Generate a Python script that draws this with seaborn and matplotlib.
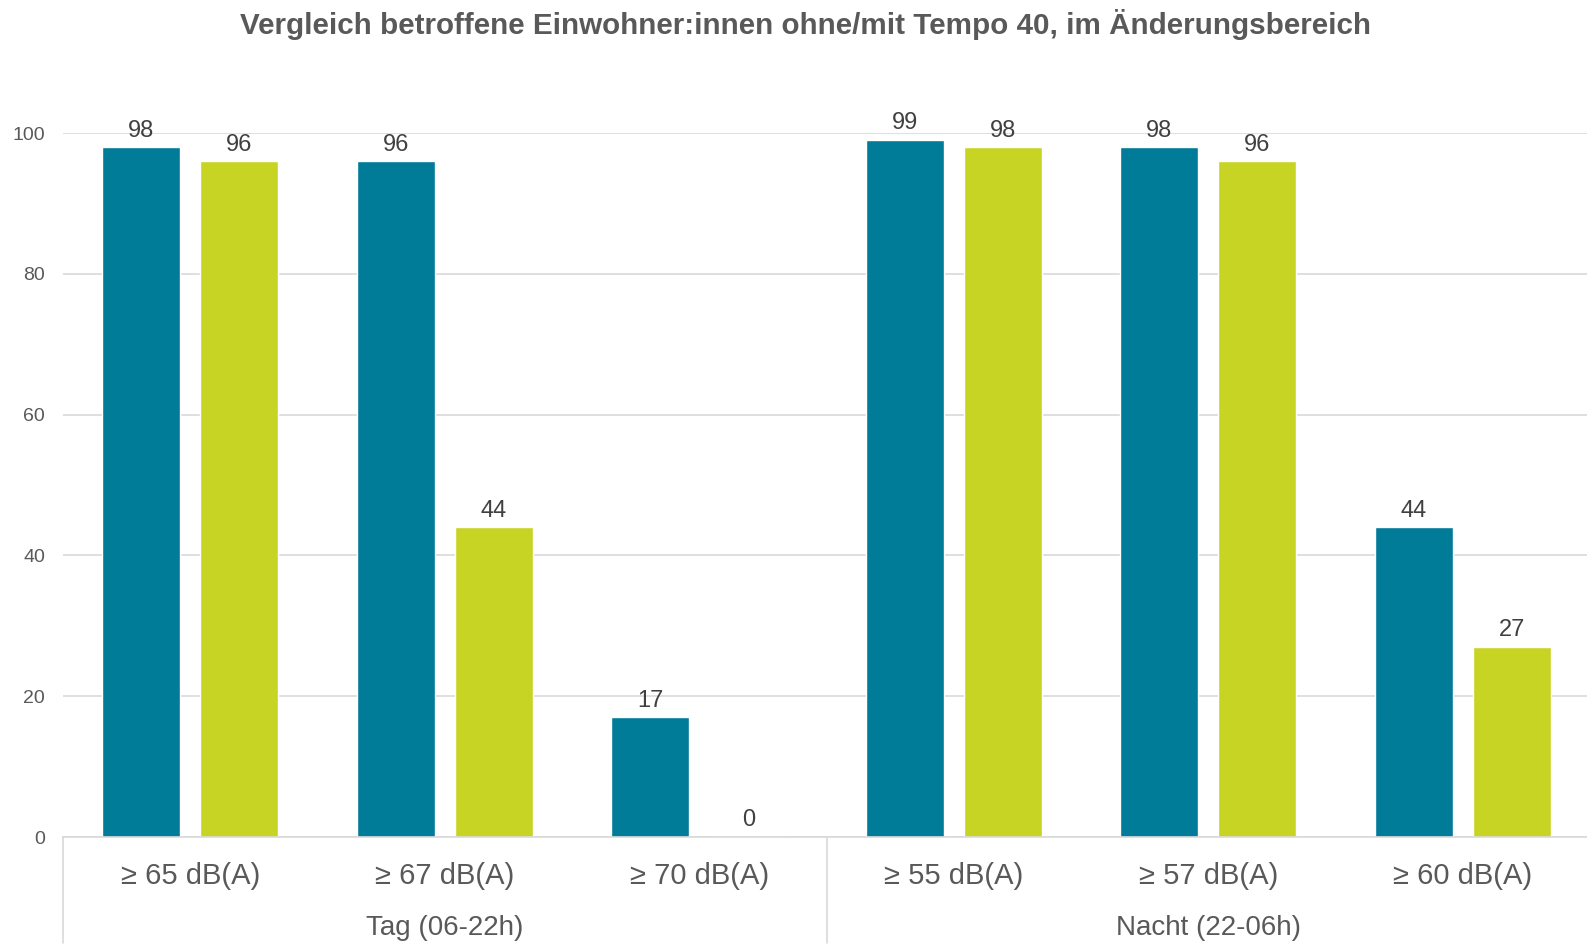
import numpy as np
import pandas as pd
import seaborn as sns
from matplotlib import pyplot as plt
from matplotlib import transforms

sns.set_theme(style="white")
plt.rcParams['font.family'] = ['Liberation Sans', 'DejaVu Sans']
# -------------------------------------
# data
categories = ["≥ 65 dB(A)", "≥ 67 dB(A)", "≥ 70 dB(A)", "≥ 55 dB(A)", "≥ 57 dB(A)", "≥ 60 dB(A)"]
groups = ["Tag (06-22h)", "Nacht (22-06h)"]
ngroupcats = 3
series = ["ohne Tempo 40", "mit Tempo 40"]
ohne = [98, 96, 17, 99, 98, 44]
mit = [96, 44, 0, 98, 96, 27]
yticks = [0, 20, 40, 60, 80, 100]
title = "Vergleich betroffene Einwohner:innen ohne/mit Tempo 40, im Änderungsbereich"
# -------------------------------------
colors = ["#007B98", "#C8D424"]
textcol = "#595959"
gridcol = "#D9D9D9"

df = pd.DataFrame({
    "cat": categories * 2,
    "series": [series[0]] * len(categories) + [series[1]] * len(categories),
    "value": ohne + mit,
})

fh = plt.figure(figsize=(15.87, 9.46), dpi=100)
ah = fh.add_axes([63/1587, 1-837/946, 1527/1587, (837-133)/946])

sns.barplot(data=df, x="cat", y="value", hue="series", order=categories,
            hue_order=series, palette=colors, width=0.77, gap=0.2,
            legend=False, ax=ah, saturation=1, errorbar=None)

for cont in ah.containers:
    ah.bar_label(cont, fmt="%d", padding=4, fontsize=17, color="#404040")

ah.set_ylim(0, 100)
ah.set_xlim(-0.5, len(categories)-0.5)
ah.set_yticks(yticks)
ah.set_yticklabels([str(v) for v in yticks], fontsize=14, color=textcol)
ah.yaxis.grid(True, color=gridcol, linewidth=1.2)
ah.set_axisbelow(True)
for s in ["top", "right", "left"]:
    ah.spines[s].set_visible(False)
ah.spines["bottom"].set_color(gridcol)
ah.spines["bottom"].set_linewidth(1.2)
ah.tick_params(axis="y", length=0, pad=13)
ah.tick_params(axis="x", length=0, pad=18)
ah.set_xticks(range(len(categories)))
ah.set_xticklabels(categories, fontsize=21, color=textcol)
ah.set_xlabel("")
ah.set_ylabel("")

# group labels and separators
trans = transforms.blended_transform_factory(ah.transData, ah.transAxes)
for ig, g in enumerate(groups):
    xc = ig * ngroupcats + (ngroupcats - 1) / 2
    ah.text(xc, -91/704, g, transform=trans, ha="center", va="center",
            fontsize=20, color=textcol)
for xs in np.arange(-0.5, len(categories), ngroupcats):
    ah.plot([xs, xs], [0, -0.15], transform=trans, color=gridcol,
            linewidth=1.2, clip_on=False)

fh.text(805/1587, 1-25/946, title, ha="center", va="center", fontsize=21.3,
        fontweight="bold", color=textcol)

fh.savefig("out.png", dpi=100, facecolor="white")
